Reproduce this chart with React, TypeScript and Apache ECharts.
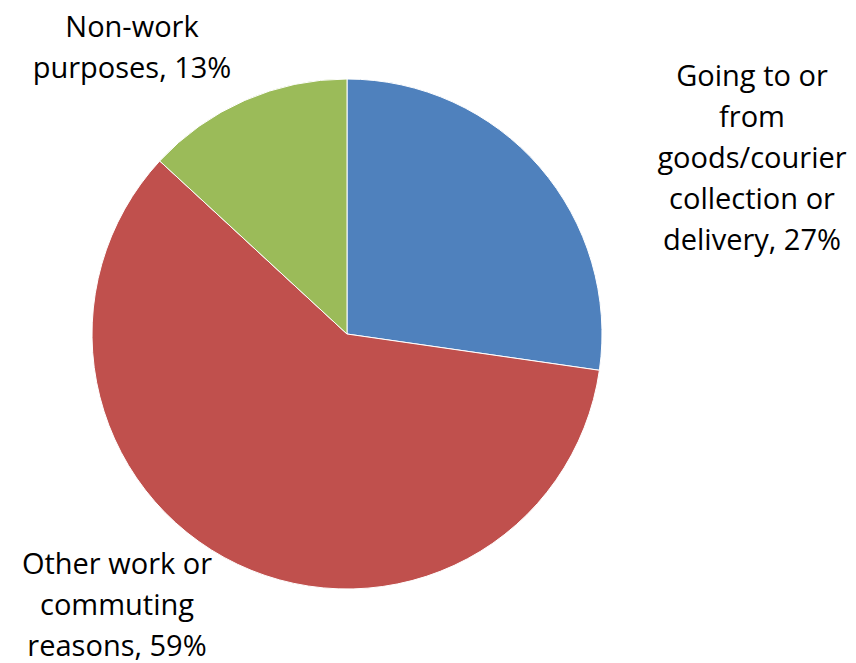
import React, { useEffect, useRef } from "react";
import * as echarts from "echarts";

const categories = [
  "Going to or\nfrom\ngoods/courier\ncollection or\ndelivery",
  "Other work or\ncommuting\nreasons",
  "Non-work\npurposes",
];
const values = [27, 59, 13];
const colors = ["#4F81BD", "#C0504D", "#9BBB59"];
const labelAnchors = [
  [752, 156],
  [117, 603],
  [132, 46],
];

export default function App() {
  const ref = useRef<HTMLDivElement>(null);
  useEffect(() => {
    document.body.style.margin = "0";
    const chart = echarts.init(ref.current!, null, { renderer: "svg" });
    chart.setOption({
      animation: false,
      backgroundColor: "#ffffff",
      series: [
        {
          type: "pie",
          center: [347, 334],
          radius: [0, 255],
          startAngle: 90,
          clockwise: true,
          data: categories.map((c, i) => ({
            name: c,
            value: values[i],
            itemStyle: { color: colors[i] },
          })),
          itemStyle: { borderColor: "#ffffff", borderWidth: 1 },
          label: {
            show: true,
            position: "outside",
            formatter: (p: any) => `${p.name}, ${p.value}%`,
            fontFamily: "'Open Sans', Lato, sans-serif",
            fontSize: 29,
            lineHeight: 41,
            color: "#000000",
            align: "center",
            overflow: "none",
            width: 300,
          },
          labelLine: { show: false },
          labelLayout: (params: any) => ({
            x: labelAnchors[params.dataIndex][0],
            y: labelAnchors[params.dataIndex][1],
            align: "center",
            verticalAlign: "middle",
          }),
          emphasis: { disabled: true },
        },
      ],
    });
    return () => chart.dispose();
  }, []);
  return <div ref={ref} style={{ width: 856, height: 663 }} />;
}
